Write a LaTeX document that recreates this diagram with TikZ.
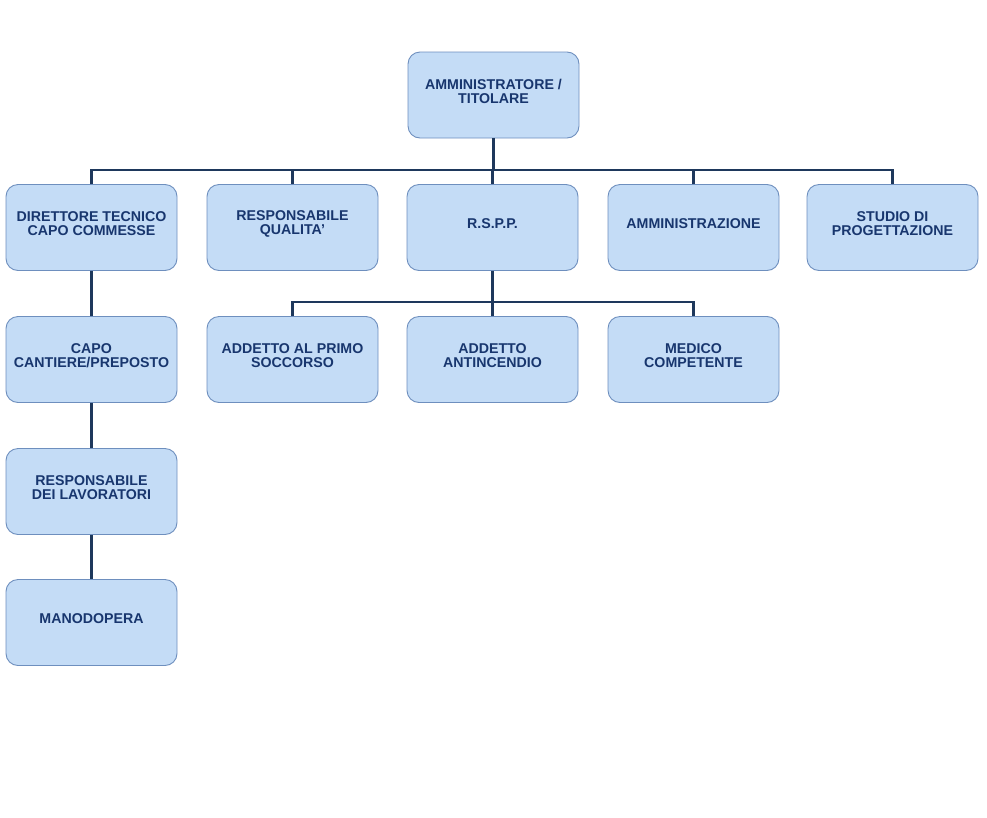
\documentclass[tikz,border=0pt]{standalone}
\usepackage{fontspec}
\setmainfont{Liberation Sans}
\definecolor{boxfill}{RGB}{196,220,246}
\definecolor{boxdraw}{RGB}{110,143,190}
\definecolor{boxtext}{RGB}{24,54,110}
\definecolor{linkcol}{RGB}{30,56,92}
\begin{document}
\begin{tikzpicture}[x=1pt,y=-1pt,
  orgbox/.style={draw=boxdraw, line width=0.9pt, fill=boxfill, rounded corners=12pt,
    minimum width=171pt, minimum height=86pt, inner sep=0pt},
  orgtext/.style={font=\fontsize{14.2}{14}\selectfont\bfseries, text=boxtext, align=center, yshift=3.5pt},
  link/.style={draw=linkcol, line width=2.5pt}]
\useasboundingbox (0,0) rectangle (987,817);
% top
\node[orgbox] (top) at (493.5,95) {};
\node[orgtext] (ttop) at (top) {AMMINISTRATORE /\\TITOLARE};
% row 1
\node[orgbox] (dir) at (91.5,227.5) {};
\node[orgtext] (tdir) at (dir) {DIRETTORE TECNICO\\CAPO COMMESSE};
\node[orgbox] (qual) at (292.5,227.5) {};
\node[orgtext] (tqual) at (qual) {RESPONSABILE\\QUALITA'};
\node[orgbox] (rspp) at (492.5,227.5) {};
\node[orgtext] (trspp) at (rspp) {R.S.P.P.};
\node[orgbox] (amm) at (693.5,227.5) {};
\node[orgtext] (tamm) at (amm) {AMMINISTRAZIONE};
\node[orgbox] (stud) at (892.5,227.5) {};
\node[orgtext] (tstud) at (stud) {STUDIO DI\\PROGETTAZIONE};
% row 2
\node[orgbox] (capo) at (91.5,359.5) {};
\node[orgtext] (tcapo) at (capo) {CAPO\\CANTIERE/PREPOSTO};
\node[orgbox] (primo) at (292.5,359.5) {};
\node[orgtext] (tprimo) at (primo) {ADDETTO AL PRIMO\\SOCCORSO};
\node[orgbox] (antinc) at (492.5,359.5) {};
\node[orgtext] (tantinc) at (antinc) {ADDETTO\\ANTINCENDIO};
\node[orgbox] (medico) at (693.5,359.5) {};
\node[orgtext] (tmedico) at (medico) {MEDICO\\COMPETENTE};
% row 3, 4
\node[orgbox] (lav) at (91.5,491.5) {};
\node[orgtext] (tlav) at (lav) {RESPONSABILE\\DEI LAVORATORI};
\node[orgbox] (mano) at (91.5,622.5) {};
\node[orgtext] (tmano) at (mano) {MANODOPERA};
% buses
\coordinate (bus1) at (0,170);
\coordinate (bus2) at (0,302);
\draw[link] (top.south) -- (top.south |- bus1);
\draw[link] (dir.north) -- (dir.north |- bus1) -- (stud.north |- bus1) -- (stud.north);
\draw[link] (qual.north) -- (qual.north |- bus1);
\draw[link] (rspp.north) -- (rspp.north |- bus1);
\draw[link] (amm.north) -- (amm.north |- bus1);
\draw[link] (rspp.south) -- (rspp.south |- bus2);
\draw[link] (primo.north) -- (primo.north |- bus2) -- (medico.north |- bus2) -- (medico.north);
\draw[link] (antinc.north) -- (antinc.north |- bus2);
\draw[link] (dir.south) -- (capo.north);
\draw[link] (capo.south) -- (lav.north);
\draw[link] (lav.south) -- (mano.north);
\end{tikzpicture}
\end{document}
